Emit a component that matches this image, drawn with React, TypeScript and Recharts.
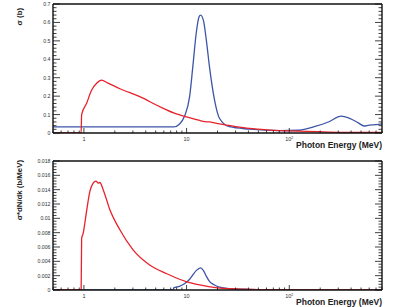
import { LineChart, Line, XAxis, YAxis, Label } from "recharts"

// cross section (top panel)
const redTopEnergy = [0.5, 0.94, 0.95, 1.06, 1.19, 1.33, 1.49, 1.7, 2.24, 3.5, 5.47, 7.6, 10, 13.4, 15, 16.7, 20.9, 30, 40.9, 60, 100, 244, 500, 800]
const redTopSigma = [0, 0, 0.1, 0.16, 0.233, 0.27, 0.287, 0.272, 0.24, 0.197, 0.143, 0.108, 0.087, 0.068, 0.062, 0.06, 0.049, 0.035, 0.025, 0.017, 0.011, 0.005, 0.003, 0.003]
const blueTopEnergy = [0.5, 7.5, 8.55, 9.56, 10.7, 11.5, 12.4, 13.2, 13.7, 14.6, 15.6, 16.7, 18.7, 20.9, 26.1, 40.9, 80, 125, 175, 244, 320, 400, 470, 535, 600, 700, 800]
const blueTopSigma = [0.033, 0.033, 0.049, 0.092, 0.197, 0.36, 0.54, 0.63, 0.64, 0.61, 0.5, 0.36, 0.18, 0.08, 0.034, 0.021, 0.013, 0.015, 0.034, 0.061, 0.092, 0.076, 0.055, 0.038, 0.043, 0.045, 0.05]

// sigma * dN/dk (bottom panel)
const redBotEnergy = [0.5, 0.94, 0.95, 0.984, 1.02, 1.077, 1.14, 1.23, 1.31, 1.38, 1.43, 1.54, 1.79, 2.24, 3.01, 4.37, 6.35, 9.9, 13.4, 20, 30, 50, 100, 800]
const redBotValue = [0, 0, 0.0072, 0.0079, 0.0093, 0.0116, 0.0137, 0.0149, 0.0152, 0.0149, 0.015, 0.014, 0.0112, 0.0084, 0.0056, 0.0035, 0.0023, 0.00116, 0.0007, 0.0003, 0.00015, 0.00006, 0.00002, 0]
const blueBotEnergy = [0.5, 7.4, 7.5, 8.5, 9.6, 10.7, 11.5, 12.4, 13.2, 13.7, 14.6, 15.6, 16.7, 18.7, 20.9, 26, 40, 100, 800]
const blueBotValue = [0, 0, 0.0003, 0.0005, 0.0009, 0.0015, 0.0021, 0.0027, 0.003, 0.0031, 0.0027, 0.0019, 0.0012, 0.0007, 0.0004, 0.0002, 0.0001, 0.00003, 0]

const xMajor = [1, 10, 100]
const xMinor = [0.5, 0.6, 0.7, 0.8, 0.9, 2, 3, 4, 5, 6, 7, 8, 9, 20, 30, 40, 50, 60, 70, 80, 90, 200, 300, 400, 500, 600, 700, 800]
const yTopMajor = [0, 0.1, 0.2, 0.3, 0.4, 0.5, 0.6, 0.7]
const yTopLabels = ["0", "0.1", "0.2", "0.3", "0.4", "0.5", "0.6", "0.7"]
const yBotMajor = [0, 0.002, 0.004, 0.006, 0.008, 0.01, 0.012, 0.014, 0.016, 0.018]
const yBotLabels = ["0", "0.002", "0.004", "0.006", "0.008", "0.01", "0.012", "0.014", "0.016", "0.018"]

const RED = "#e8222a"
const BLUE = "#3d55a6"
const FONT = "'Liberation Sans', Arial, sans-serif"
const LEFT = 53
const RIGHT = 382
const WIDTH = 398

const zip = (xs: number[], ys: number[]) => xs.map((x, i) => ({ x, y: ys[i] }))

const minors = (major: number[], n: number) => {
  const out: number[] = []
  for (let i = 0; i < major.length - 1; i++) {
    const step = (major[i + 1] - major[i]) / n
    for (let k = 1; k < n; k++) out.push(major[i] + k * step)
  }
  return out
}

const isMajor = (v: number, major: number[]) => major.findIndex((m) => Math.abs(m - v) < 1e-9)

function XLabel({ x, y, v }: { x: number; y: number; v: number }) {
  if (v === 100) {
    return (
      <text x={x} y={y} textAnchor="middle" fontSize={5.5} fill="#333" fontFamily={FONT}>
        10<tspan dy={-2.5} fontSize={3.5}>2</tspan>
      </text>
    )
  }
  return (
    <text x={x} y={y} textAnchor="middle" fontSize={5.5} fill="#333" fontFamily={FONT}>
      {v}
    </text>
  )
}

interface PanelProps {
  height: number
  plotTop: number
  plotBottom: number
  red: { x: number; y: number }[]
  blue: { x: number; y: number }[]
  yMax: number
  yMajor: number[]
  yLabels: string[]
  yTitle: string
  yTitleTop: number
}

function Panel({ height, plotTop, plotBottom, red, blue, yMax, yMajor, yLabels, yTitle, yTitleTop }: PanelProps) {
  const yTicks = [...yMajor, ...minors(yMajor, 5)]
  const xTicks = [...xMajor, ...xMinor]
  const axisStroke = { stroke: "#111", strokeWidth: 1.4 }

  const bottomTick = (p: any) => {
    const major = xMajor.includes(p.payload.value)
    const len = major ? 5 : 2.5
    return (
      <g>
        <line x1={p.x} x2={p.x} y1={plotBottom} y2={plotBottom - len} stroke="#111" strokeWidth={0.8} />
        {major && <XLabel x={p.x} y={plotBottom + 8} v={p.payload.value} />}
      </g>
    )
  }
  const topTick = (p: any) => {
    const len = xMajor.includes(p.payload.value) ? 5 : 2.5
    return <line x1={p.x} x2={p.x} y1={plotTop} y2={plotTop + len} stroke="#111" strokeWidth={0.8} />
  }
  const leftTick = (p: any) => {
    const idx = isMajor(p.payload.value, yMajor)
    const len = idx >= 0 ? 7 : 3.5
    return (
      <g>
        <line x1={LEFT} x2={LEFT + len} y1={p.y} y2={p.y} stroke="#111" strokeWidth={0.8} />
        {idx >= 0 && (
          <text x={LEFT - 2.5} y={p.y + 2} textAnchor="end" fontSize={5.2} fill="#333" fontFamily={FONT}>
            {yLabels[idx]}
          </text>
        )}
      </g>
    )
  }
  const rightTick = (p: any) => {
    const len = isMajor(p.payload.value, yMajor) >= 0 ? 7 : 3.5
    return <line x1={RIGHT} x2={RIGHT - len} y1={p.y} y2={p.y} stroke="#111" strokeWidth={0.8} />
  }

  return (
    <LineChart width={WIDTH} height={height} margin={{ top: 0, right: 0, bottom: 0, left: 0 }}>
      <XAxis
        xAxisId="b"
        dataKey="x"
        type="number"
        scale="log"
        domain={[0.5, 800]}
        allowDataOverflow
        ticks={xTicks}
        interval={0}
        tickLine={false}
        axisLine={axisStroke}
        tick={bottomTick}
        height={height - plotBottom}
      >
        <Label
          content={() => (
            <text x={RIGHT} y={plotBottom + 15} textAnchor="end" fontSize={8.5} fontWeight="bold" fill="#222" fontFamily={FONT}>
              Photon Energy (MeV)
            </text>
          )}
        />
      </XAxis>
      <XAxis
        xAxisId="t"
        orientation="top"
        type="number"
        scale="log"
        domain={[0.5, 800]}
        allowDataOverflow
        ticks={xTicks}
        interval={0}
        tickLine={false}
        axisLine={axisStroke}
        tick={topTick}
        height={plotTop}
      />
      <YAxis
        yAxisId="l"
        type="number"
        domain={[0, yMax]}
        allowDataOverflow
        ticks={yTicks}
        interval={0}
        tickLine={false}
        axisLine={axisStroke}
        tick={leftTick}
        width={LEFT}
      >
        <Label
          content={() => (
            <text
              x={22}
              y={yTitleTop}
              transform={`rotate(-90 22 ${yTitleTop})`}
              textAnchor="end"
              fontSize={7.8}
              fontWeight="bold"
              fill="#222"
              fontFamily={FONT}
            >
              {yTitle}
            </text>
          )}
        />
      </YAxis>
      <YAxis
        yAxisId="r"
        orientation="right"
        type="number"
        domain={[0, yMax]}
        allowDataOverflow
        ticks={yTicks}
        interval={0}
        tickLine={false}
        axisLine={axisStroke}
        tick={rightTick}
        width={WIDTH - RIGHT}
      />
      <Line
        xAxisId="b"
        yAxisId="l"
        data={blue}
        dataKey="y"
        type="monotone"
        stroke={BLUE}
        strokeWidth={1.3}
        dot={false}
        isAnimationActive={false}
      />
      <Line
        xAxisId="b"
        yAxisId="l"
        data={red}
        dataKey="y"
        type="monotone"
        stroke={RED}
        strokeWidth={1.3}
        dot={false}
        isAnimationActive={false}
      />
    </LineChart>
  )
}

export default function App() {
  return (
    <div style={{ position: "absolute", left: 0, top: 0, width: WIDTH, height: 307, background: "#fff" }}>
      <Panel
        height={150}
        plotTop={4}
        plotBottom={133}
        red={zip(redTopEnergy, redTopSigma)}
        blue={zip(blueTopEnergy, blueTopSigma)}
        yMax={0.7}
        yMajor={yTopMajor}
        yLabels={yTopLabels}
        yTitle="σ (b)"
        yTitleTop={8}
      />
      <Panel
        height={157}
        plotTop={11}
        plotBottom={140}
        red={zip(redBotEnergy, redBotValue)}
        blue={zip(blueBotEnergy, blueBotValue)}
        yMax={0.018}
        yMajor={yBotMajor}
        yLabels={yBotLabels}
        yTitle="σ*dN/dk (b/MeV)"
        yTitleTop={10}
      />
    </div>
  )
}
